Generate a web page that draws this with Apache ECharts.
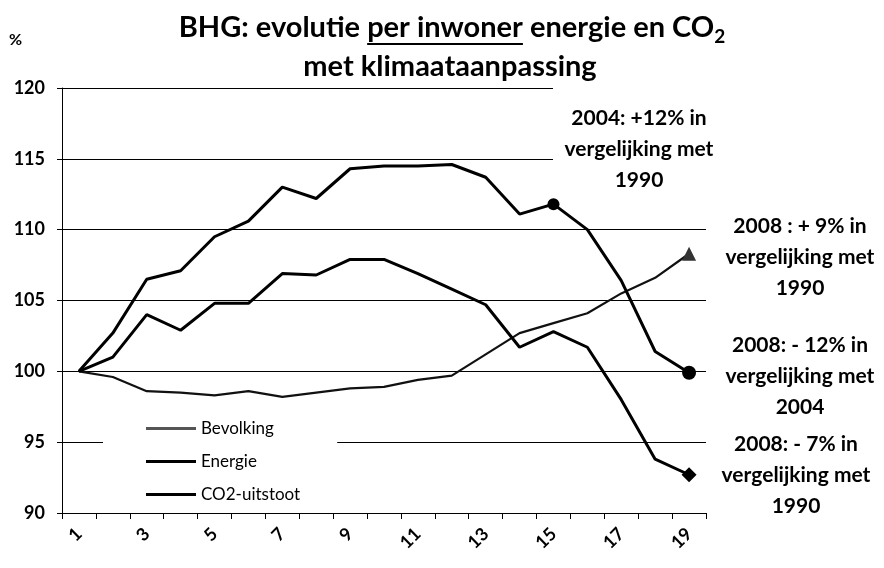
<!DOCTYPE html>
<html>
<head>
<meta charset="utf-8">
<script src="https://cdn.jsdelivr.net/npm/echarts@6/dist/echarts.min.js"></script>
<style>html,body{margin:0;padding:0;background:#fff}#c{width:884px;height:568px}</style>
</head>
<body>
<div id="c"></div>
<script>
// ---- data ----
const categories = ['1','2','3','4','5','6','7','8','9','10','11','12','13','14','15','16','17','18','19'];
const bevolking = [100, 99.6, 98.6, 98.5, 98.3, 98.6, 98.2, 98.5, 98.8, 98.9, 99.4, 99.7, 101.2, 102.7, 103.4, 104.1, 105.5, 106.6, 108.3];
const energie   = [100, 102.7, 106.5, 107.1, 109.5, 110.6, 113.0, 112.2, 114.3, 114.5, 114.5, 114.6, 113.7, 111.1, 111.8, 110.0, 106.4, 101.4, 99.9];
const co2       = [100, 101.0, 104.0, 102.9, 104.8, 104.8, 106.9, 106.8, 107.9, 107.9, 106.9, 105.8, 104.7, 101.7, 102.8, 101.7, 98.0, 93.8, 92.7];
const seriesNames = ['Bevolking', 'Energie', 'CO2-uitstoot'];
const yMin = 90, yMax = 120, yInterval = 5;
// marked points: [series, categoryIndex, symbol, size]
const marks = [
  ['Energie', 14, 'circle', 12],
  ['Energie', 18, 'circle', 14],
  ['Bevolking', 18, 'triangle', 14],
  ['CO2-uitstoot', 18, 'diamond', 15]
];
const annotations = [
  {lines: ['2004: +12% in', 'vergelijking met', '1990'], x: 639, y: 149},
  {lines: ['2008 : + 9% in', 'vergelijking met', '1990'], x: 800, y: 257},
  {lines: ['2008: - 12% in', 'vergelijking met', '2004'], x: 800, y: 376},
  {lines: ['2008: - 7% in', 'vergelijking met', '1990'], x: 796, y: 475}
];
const titleA = 'BHG: evolutie ', titleU = 'per inwoner', titleB = ' energie en CO', titleSub = '2';
const title2 = 'met klimaataanpassing';

const FONT = 'Lato';
function mkData(name, arr) {
  return arr.map((v, i) => {
    const m = marks.find(k => k[0] === name && k[1] === i);
    return m ? {value: v, symbol: m[2], symbolSize: m[3], itemStyle: {color: name === 'Bevolking' ? '#333' : '#000'}} : v;
  });
}

// measure title pieces
const cv = document.createElement('canvas').getContext('2d');
const tFont = 'bold 29px ' + FONT, sFont = 'bold 19px ' + FONT;
cv.font = tFont;
const wA = cv.measureText(titleA).width, wU = cv.measureText(titleU).width, wB = cv.measureText(titleB).width;
cv.font = sFont;
const wS = cv.measureText(titleSub).width;
const W = wA + wU + wB + wS;
const x0 = 452 - W / 2;
const tY = 28;
const TA = {align: 'left', verticalAlign: 'middle', textAlign: 'left', textVerticalAlign: 'middle'};

const graphics = [
  {type: 'text', left: 9, top: 32, style: {text: '%', font: 'bold 16px ' + FONT, fill: '#000'}},
  {type: 'text', x: x0, y: tY, style: Object.assign({text: titleA, font: tFont, fill: '#000'}, TA)},
  {type: 'text', x: x0 + wA, y: tY, style: Object.assign({text: titleU, font: tFont, fill: '#000'}, TA)},
  {type: 'line', shape: {x1: x0 + wA, y1: 44, x2: x0 + wA + wU, y2: 44}, style: {stroke: '#000', lineWidth: 2}},
  {type: 'text', x: x0 + wA + wU, y: tY, style: Object.assign({text: titleB, font: tFont, fill: '#000'}, TA)},
  {type: 'text', x: x0 + wA + wU + wB, y: tY + 9, style: Object.assign({text: titleSub, font: sFont, fill: '#000'}, TA)},
  {type: 'text', x: 450, y: 67, style: {text: title2, font: tFont, fill: '#000', align: 'center', verticalAlign: 'middle', textAlign: 'center', textVerticalAlign: 'middle'}},
  {type: 'rect', shape: {x: 553, y: 84, width: 172, height: 113}, style: {fill: '#fff'}, z: 5}
];
annotations.forEach(a => {
  graphics.push({type: 'text', x: a.x, y: a.y, z: 6, style: {
    text: a.lines.join('\n'), font: 'bold 21px ' + FONT, fill: '#000', lineHeight: 31,
    align: 'center', verticalAlign: 'middle', textAlign: 'center', textVerticalAlign: 'middle'}});
});

const lineIcon = 'path://M0,0H50V3H0Z';
const chart = echarts.init(document.getElementById('c'));
chart.setOption({
  backgroundColor: '#fff',
  animation: false,
  grid: {left: 62, right: 178, top: 88, bottom: 55, containLabel: false},
  legend: {
    orient: 'vertical', left: 103, top: 410,
    padding: [10, 37, 6, 43], itemGap: 16, itemWidth: 50, itemHeight: 3,
    backgroundColor: '#fff',
    textStyle: {fontFamily: FONT, fontSize: 17, color: '#000'},
    data: [
      {name: 'Bevolking', icon: lineIcon, itemStyle: {color: '#555'}},
      {name: 'Energie', icon: lineIcon},
      {name: 'CO2-uitstoot', icon: lineIcon}
    ]
  },
  xAxis: {
    type: 'category', data: categories, boundaryGap: true,
    axisLine: {show: true, lineStyle: {color: '#000', width: 1}},
    axisTick: {show: true, interval: 0, length: 6, lineStyle: {color: '#000'}},
    axisLabel: {interval: 1, rotate: 45, fontFamily: FONT, fontSize: 18, fontWeight: 'bold', color: '#000', margin: 18},
    splitLine: {show: false}
  },
  yAxis: {
    type: 'value', min: yMin, max: yMax, interval: yInterval,
    axisLine: {show: true, lineStyle: {color: '#000', width: 1}},
    axisTick: {show: true, length: 5, lineStyle: {color: '#000'}},
    axisLabel: {fontFamily: FONT, fontSize: 18, fontWeight: 'bold', color: '#000', margin: 17},
    splitLine: {show: true, lineStyle: {color: '#000', width: 1}}
  },
  series: [
    {name: 'Bevolking', type: 'line', data: mkData('Bevolking', bevolking), symbol: 'none', lineStyle: {color: '#111', width: 2.2}, itemStyle: {color: '#111'}},
    {name: 'Energie', type: 'line', data: mkData('Energie', energie), symbol: 'none', lineStyle: {color: '#000', width: 3}, itemStyle: {color: '#000'}},
    {name: 'CO2-uitstoot', type: 'line', data: mkData('CO2-uitstoot', co2), symbol: 'none', lineStyle: {color: '#000', width: 3}, itemStyle: {color: '#000'}}
  ],
  graphic: graphics
});
</script>
</body>
</html>
